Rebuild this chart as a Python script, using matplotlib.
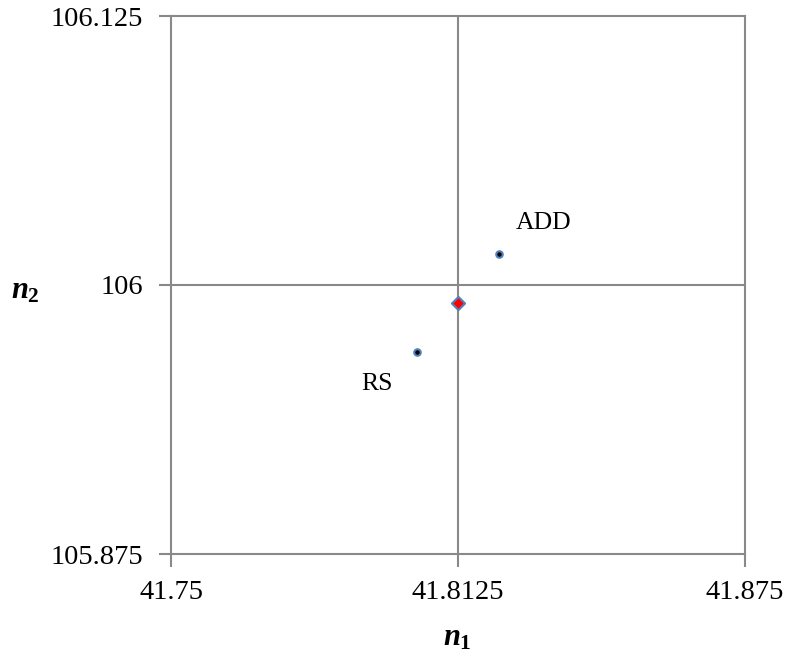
import matplotlib.pyplot as plt

plt.rcParams['font.family'] = 'Liberation Serif'
plt.rcParams['mathtext.fontset'] = 'custom'
plt.rcParams['mathtext.it'] = 'Liberation Serif:italic:bold'
plt.rcParams['mathtext.rm'] = 'Liberation Serif:bold'

# Points (n1, n2)
labels = ["ADD", "RS"]
n1_vals = [41.8214, 41.8035]
n2_vals = [106.0144, 105.9689]
center_n1 = [41.8125]
center_n2 = [105.9916]

x_ticks = [41.75, 41.8125, 41.875]
y_ticks = [105.875, 106, 106.125]
x_ticklabels = ["41.75", "41.8125", "41.875"]
y_ticklabels = ["105.875", "106", "106.125"]

W, H = 788, 652
fig = plt.figure(figsize=(W / 100, H / 100), dpi=100)
ax = fig.add_axes([171 / W, 1 - 554 / H, 574 / W, 538 / H])

gray = "#898989"
ax.axvline(x_ticks[1], color=gray, lw=1.5, zorder=1)
ax.axhline(y_ticks[1], color=gray, lw=1.5, zorder=1)

ax.scatter(n1_vals, n2_vals, s=22, marker="o", facecolor="black",
           edgecolor="#4F81BD", linewidth=1.5, zorder=3)
ax.scatter(center_n1, center_n2, s=45, marker="D", facecolor="#FF0000",
           edgecolor="#4F81BD", linewidth=1.5, zorder=3)

ax.text(41.8251, 106.0288, labels[0], fontsize=18.5, ha="left", va="center")
ax.text(41.7983, 105.954, labels[1], fontsize=18.5, ha="right", va="center")

ax.set_xlim(x_ticks[0], x_ticks[-1])
ax.set_ylim(y_ticks[0], y_ticks[-1])
ax.set_xticks(x_ticks)
ax.set_xticklabels(x_ticklabels)
ax.set_yticks(y_ticks)
ax.set_yticklabels(y_ticklabels)
ax.tick_params(direction="out", length=9, width=1.5, color=gray,
               labelsize=20.5)
ax.tick_params(axis="x", pad=10)
ax.tick_params(axis="y", pad=11)
for sp in ax.spines.values():
    sp.set_color(gray)
    sp.set_linewidth(1.5)

# axis titles
fig.text(457 / W, 1 - 638 / H, r"$n_{\mathrm{1}}$", fontsize=22,
         ha="center", va="center")
fig.text(25 / W, 1 - 291 / H, r"$n_{\mathrm{2}}$", fontsize=22,
         ha="center", va="center")

plt.savefig("out.png", dpi=100)
